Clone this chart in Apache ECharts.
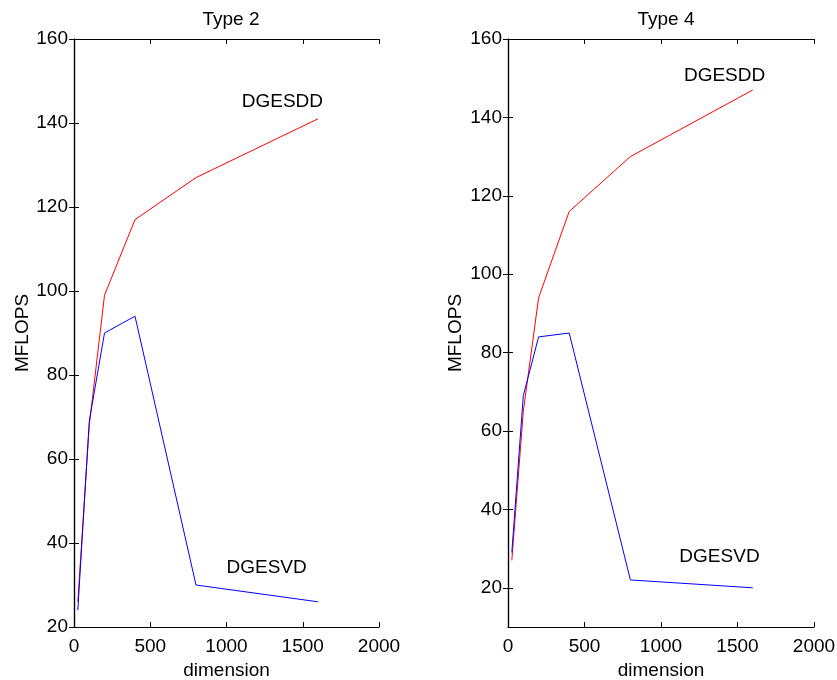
<!DOCTYPE html>
<html>
<head>
<meta charset="utf-8">
<script src="https://cdn.jsdelivr.net/npm/echarts@6/dist/echarts.min.js"></script>
<style>html,body{margin:0;padding:0;background:#fff;}#c{width:837px;height:680px;}</style>
</head>
<body>
<div id="c"></div>
<script>
const dims = [25, 100, 200, 400, 800, 1600];
const type2_DGESDD = [26, 68, 99, 117, 127, 141];
const type2_DGESVD = [24, 69, 90, 94, 30, 26];
const type4_DGESDD = [27, 65, 94, 116, 130, 147];
const type4_DGESVD = [29, 69, 84, 85, 22, 20];
const titles = ['Type 2', 'Type 4'];
const type2_labels = [['DGESDD', 1100, 145], ['DGESVD', 1000, 34]];
const type4_labels = [['DGESDD', 1150, 150.5], ['DGESVD', 1120, 28]];
const xTicks = [0, 500, 1000, 1500, 2000];
const y2Ticks = [20, 40, 60, 80, 100, 120, 140, 160];
const y4Ticks = [20, 40, 60, 80, 100, 120, 140, 160];

const FONT = 'Liberation Sans, Arial, Helvetica, sans-serif';
const FS = 19;
const black = '#000';

function pairs(xs, ys) { return xs.map((x, i) => [x, ys[i]]); }

const grids = [
  {left: 74, top: 39, width: 305, height: 588, outerBoundsMode: 'none', containLabel: false},
  {left: 508, top: 39, width: 306, height: 588, outerBoundsMode: 'none', containLabel: false}
];

const xAxis = [];
const yAxis = [];
[0, 1].forEach(g => {
  xAxis.push({
    type: 'value', gridIndex: g, position: 'bottom', min: 0, max: 2000,
    axisLine: {show: true, lineStyle: {color: black, width: 1.2}},
    axisTick: {show: true, inside: true, length: 5, lineStyle: {color: black}, customValues: xTicks},
    axisLabel: {color: black, fontSize: FS, fontFamily: FONT, margin: 10, customValues: xTicks,
      formatter: v => String(v)},
    splitLine: {show: false},
    name: 'dimension', nameLocation: 'middle', nameGap: 29,
    nameTextStyle: {color: black, fontSize: FS, fontFamily: FONT}
  });
  xAxis.push({
    type: 'value', gridIndex: g, position: 'top', min: 0, max: 2000,
    axisLine: {show: true, lineStyle: {color: black, width: 1.2}},
    axisTick: {show: true, inside: true, length: 5, lineStyle: {color: black}, customValues: xTicks},
    axisLabel: {show: false},
    splitLine: {show: false}
  });
  const ymin = g === 0 ? 20 : 10;
  const yt = g === 0 ? y2Ticks : y4Ticks;
  yAxis.push({
    type: 'value', gridIndex: g, position: 'left', min: ymin, max: 160,
    axisLine: {show: true, lineStyle: {color: black, width: 1.2}},
    axisTick: {show: true, inside: true, length: 5, lineStyle: {color: black}, customValues: yt},
    axisLabel: {color: black, fontSize: FS, fontFamily: FONT, margin: 6, customValues: yt,
      formatter: v => String(v)},
    splitLine: {show: false},
    name: 'MFLOPS', nameLocation: 'middle', nameGap: g === 0 ? 42 : 43,
    nameTextStyle: {color: black, fontSize: FS, fontFamily: FONT}
  });
  yAxis.push({
    type: 'value', gridIndex: g, position: 'right', min: ymin, max: 160,
    axisLine: {show: true, lineStyle: {color: black, width: 1.2}},
    axisTick: {show: true, inside: true, length: 5, lineStyle: {color: black}, customValues: yt},
    axisLabel: {show: false},
    splitLine: {show: false}
  });
});

function lineSeries(g, ys, color) {
  return {
    type: 'line', xAxisIndex: g * 2, yAxisIndex: g * 2,
    data: pairs(dims, ys), showSymbol: false, symbol: 'none',
    lineStyle: {color: color, width: 1}, silent: true, animation: false
  };
}
function labelSeries(g, labels) {
  return {
    type: 'scatter', xAxisIndex: g * 2, yAxisIndex: g * 2,
    symbolSize: 0, silent: true, animation: false,
    itemStyle: {opacity: 1, color: black},
    data: labels.map(l => ({value: [l[1], l[2]], name: l[0]})),
    label: {show: true, position: 'right', distance: 0, formatter: p => p.name,
      color: black, opacity: 1, fontSize: FS, fontFamily: FONT}
  };
}

const option = {
  backgroundColor: '#fff',
  animation: false,
  title: [
    {text: titles[0], left: 226, top: 5, textAlign: 'center',
     textStyle: {color: black, fontSize: FS, fontWeight: 'normal', fontFamily: FONT}},
    {text: titles[1], left: 661, top: 5, textAlign: 'center',
     textStyle: {color: black, fontSize: FS, fontWeight: 'normal', fontFamily: FONT}}
  ],
  grid: grids,
  xAxis: xAxis,
  yAxis: yAxis,
  series: [
    lineSeries(0, type2_DGESDD, '#ff0000'),
    lineSeries(0, type2_DGESVD, '#0000ff'),
    lineSeries(1, type4_DGESDD, '#ff0000'),
    lineSeries(1, type4_DGESVD, '#0000ff'),
    labelSeries(0, type2_labels),
    labelSeries(1, type4_labels)
  ]
};
const chart = echarts.init(document.getElementById('c'), null, {renderer: 'canvas'});
chart.setOption(option);
</script>
</body>
</html>
